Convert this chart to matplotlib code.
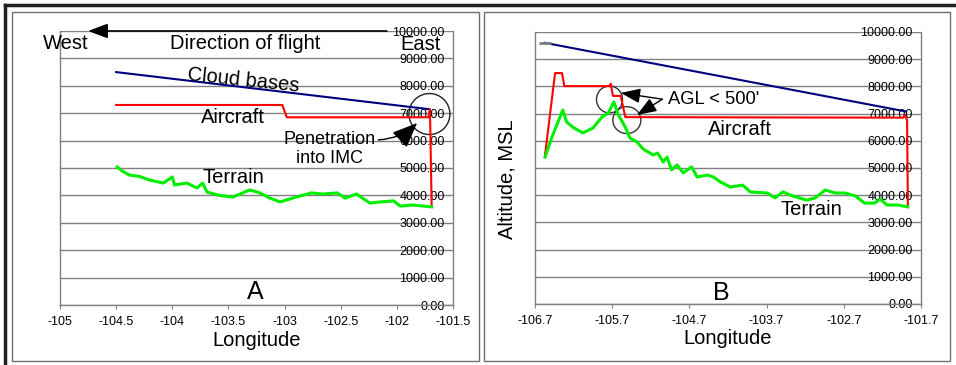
import numpy as np
import matplotlib
matplotlib.use("Agg")
from matplotlib import pyplot as plt
from matplotlib.patches import Ellipse, Rectangle
from matplotlib.lines import Line2D
from matplotlib.ticker import FormatStrFormatter

plt.rcParams['font.family'] = ['Liberation Sans', 'DejaVu Sans']

# ---- panel A data (longitude, altitude ft MSL) ----
a_cloud_lon = [-104.5, -101.72]
a_cloud_alt = [8500, 7150]

a_air_lon = [-104.5, -103.02, -102.98, -101.72, -101.705, -101.69]
a_air_alt = [7300, 7300, 6850, 6850, 7150, 3580]

a_ter_lon = [-104.49, -104.45, -104.38, -104.30, -104.20, -104.08, -104.00, -103.98,
             -103.87, -103.78, -103.73, -103.69, -103.58, -103.46, -103.31, -103.22,
             -103.13, -103.04, -102.93, -102.76, -102.66, -102.53, -102.46, -102.36,
             -102.24, -102.15, -102.03, -101.97, -101.86, -101.69]
a_ter_alt = [5040, 4900, 4740, 4700, 4560, 4450, 4670, 4380,
             4450, 4270, 4450, 4120, 4000, 3940, 4200, 4090,
             3900, 3760, 3900, 4090, 4050, 4090, 3900, 4050,
             3720, 3760, 3800, 3610, 3650, 3580]

# ---- panel B data ----
b_cloud_lon = [-106.57, -101.9]
b_cloud_alt = [9600, 7080]

b_air_lon = [-106.57, -106.44, -106.35, -106.32, -105.73, -105.72, -105.69, -105.59,
             -105.53, -101.93, -101.91, -101.88, -101.87]
b_air_alt = [5480, 8490, 8490, 8010, 8010, 8100, 7650, 7650,
             6870, 6850, 6950, 6750, 3570]

b_ter_lon = [-106.57, -106.48, -106.34, -106.29, -106.21, -106.08, -105.95, -105.83,
             -105.75, -105.68, -105.62, -105.53, -105.47, -105.38, -105.30, -105.17,
             -105.11, -105.04, -104.99, -104.93, -104.86, -104.78, -104.67, -104.60,
             -104.47, -104.39, -104.30, -104.17, -104.01, -103.91, -103.69, -103.59,
             -103.49, -103.36, -103.18, -103.07, -102.94, -102.81, -102.68, -102.55,
             -102.43, -102.30, -102.23, -102.14, -102.00, -101.87]
b_ter_alt = [5400, 6140, 7130, 6690, 6500, 6290, 6470, 6880,
             7020, 7430, 6950, 6500, 6100, 5960, 5700, 5480,
             5550, 5220, 5400, 4930, 5110, 4820, 5040, 4670,
             4740, 4670, 4490, 4300, 4370, 4120, 4080, 3900,
             4120, 3970, 3820, 3900, 4190, 4080, 4080, 3970,
             3710, 3710, 3860, 3640, 3640, 3570]

a_xticks = [-105, -104.5, -104, -103.5, -103, -102.5, -102, -101.5]
b_xticks = [-106.7, -105.7, -104.7, -103.7, -102.7, -101.7]
y_ticks = [0, 1000, 2000, 3000, 4000, 5000, 6000, 7000, 8000, 9000, 10000]

NAVY = '#00007f'
RED = '#ff0000'
LIME = '#00ee00'
GRID = '#808080'


def style_axes(ax, xticks):
    ax.set_xlim(xticks[0], xticks[-1])
    ax.set_ylim(0, 10000)
    ax.set_xticks(xticks)
    ax.xaxis.set_major_formatter(FormatStrFormatter('%g'))
    ax.set_yticks(y_ticks)
    ax.yaxis.set_major_formatter(FormatStrFormatter('%.2f'))
    ax.yaxis.tick_right()
    ax.tick_params(axis='y', length=0, pad=-6, labelsize=9)
    ax.tick_params(axis='x', length=3, pad=5, labelsize=9, color=GRID)
    plt.setp(ax.get_yticklabels(), ha='right')
    ax.grid(axis='y', color=GRID, lw=1)
    ax.set_axisbelow(True)
    ax.spines['top'].set_visible(False)
    for s in ('left', 'right', 'bottom'):
        ax.spines[s].set_color(GRID)
        ax.spines[s].set_linewidth(1)
    ax.set_xlabel('Longitude', fontsize=14.5, va='center')
    ax.xaxis.set_label_coords(0.5, -0.128)


fig = plt.figure(figsize=(9.56, 3.65), dpi=100)

# panel frames
fig.add_artist(Rectangle((12 / 956, 1 - 361 / 365), 467 / 956, 349 / 365,
                         transform=fig.transFigure, fill=False, ec='#707070', lw=1))
fig.add_artist(Rectangle((484 / 956, 1 - 361 / 365), 466 / 956, 349 / 365,
                         transform=fig.transFigure, fill=False, ec='#707070', lw=1))
fig.add_artist(Line2D([5 / 956, 1], [1 - 5 / 365, 1 - 5 / 365],
                      transform=fig.transFigure, color='#222222', lw=2.5))
fig.add_artist(Line2D([5 / 956, 5 / 956], [0, 1 - 5 / 365],
                      transform=fig.transFigure, color='#222222', lw=2.5))

# ---------------- panel A ----------------
axA = fig.add_axes([60 / 956, 1 - 305 / 365, 393 / 956, 274 / 365])
style_axes(axA, a_xticks)
axA.plot(a_cloud_lon, a_cloud_alt, color=NAVY, lw=1.5)
axA.plot(a_air_lon, a_air_alt, color=RED, lw=1.5)
axA.plot(a_ter_lon, a_ter_alt, color=LIME, lw=2.2)

axA.annotate('', xy=(-104.75, 10000), xytext=(-102.09, 10000),
             arrowprops=dict(arrowstyle='-|>,head_length=1.2,head_width=0.45',
                             color='black', lw=1.2, shrinkA=0, shrinkB=0),
             annotation_clip=False)
axA.text(-104.95, 9560, 'West', fontsize=14.5, ha='center', va='center')
axA.text(-103.35, 9560, 'Direction of flight', fontsize=14.5, ha='center', va='center')
axA.text(-101.79, 9500, 'East', fontsize=14.5, ha='center', va='center')
axA.text(-103.37, 8210, 'Cloud bases', fontsize=14.5, ha='center', va='center', rotation=-6)
axA.text(-103.46, 6860, 'Aircraft', fontsize=14.5, ha='center', va='center')
axA.text(-103.46, 4670, 'Terrain', fontsize=14.5, ha='center', va='center')
axA.text(-103.26, 470, 'A', fontsize=18, ha='center', va='center')
axA.annotate('Penetration\ninto IMC', xy=(-101.82, 6640), xytext=(-102.60, 5690),
             fontsize=13, ha='center', va='center',
             arrowprops=dict(arrowstyle='-|>,head_length=1.2,head_width=0.5',
                             color='black', lw=1, shrinkA=0, shrinkB=0,
                             relpos=(1, 0.75), connectionstyle='arc3,rad=0.2'))
axA.add_patch(Ellipse((-101.71, 6970), 0.365, 1496, fill=False, ec='#222222', lw=1,
                      clip_on=False))

# ---------------- panel B ----------------
axB = fig.add_axes([535 / 956, 1 - 304 / 365, 386 / 956, 272 / 365])
style_axes(axB, b_xticks)
axB.plot(b_cloud_lon, b_cloud_alt, color=NAVY, lw=1.5)
axB.plot(b_cloud_lon[:1], b_cloud_alt[:1], marker='_', color=GRID, ms=9, mew=2)
axB.plot(b_air_lon, b_air_alt, color=RED, lw=1.5)
axB.plot(b_ter_lon, b_ter_alt, color=LIME, lw=2.2)

fig.text(507 / 956, 1 - 179 / 365, 'Altitude, MSL', fontsize=14.5, rotation=90,
         ha='center', va='center')
axB.text(-104.38, 7500, "AGL < 500'", fontsize=13.2, ha='center', va='center')
for tip in [(-105.59, 7760), (-105.38, 6950)]:
    axB.annotate('', xy=tip, xytext=(-105.05, 7530),
                 arrowprops=dict(arrowstyle='-|>,head_length=1.2,head_width=0.45',
                                 color='black', lw=1, shrinkA=0, shrinkB=0))
axB.add_patch(Ellipse((-105.735, 7520), 0.337, 990, fill=False, ec='#333333', lw=1))
axB.add_patch(Ellipse((-105.51, 6760), 0.363, 990, fill=False, ec='#333333', lw=1))
axB.text(-104.04, 6400, 'Aircraft', fontsize=14.5, ha='center', va='center')
axB.text(-103.12, 3460, 'Terrain', fontsize=14.5, ha='center', va='center')
axB.text(-104.29, 400, 'B', fontsize=18, ha='center', va='center')

fig.savefig('out.png', dpi=100)
